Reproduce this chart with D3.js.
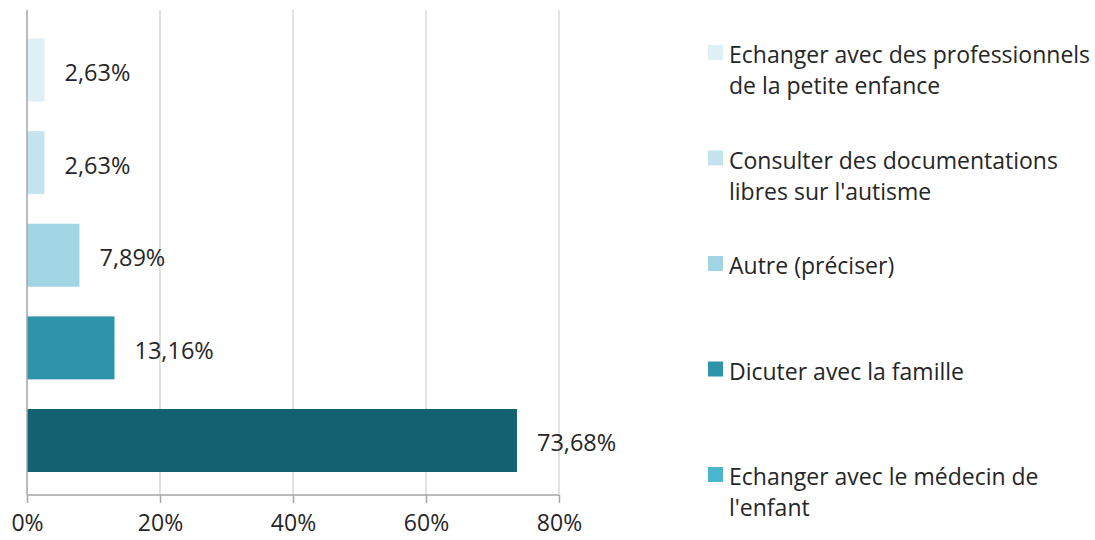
<!DOCTYPE html>
<html lang="fr">
<head>
<meta charset="utf-8">
<title></title>
<style>
  body { margin: 0; background: #fff; }
  text { font-family: "Open Sans", sans-serif; fill: #262626; }
</style>
</head>
<body>
<script src="https://d3js.org/d3.v7.min.js"></script>
<script>
  // data, top bar first
  const categories = [
    "Echanger avec des professionnels de la petite enfance",
    "Consulter des documentations libres sur l'autisme",
    "Autre (préciser)",
    "Dicuter avec la famille",
    "Echanger avec le médecin de l'enfant"
  ];
  const values = [2.63, 2.63, 7.89, 13.16, 73.68];
  const barColors = ["#deeff5", "#c4e3ee", "#a2d5e3", "#2e94aa", "#126272"];
  const legendColors = ["#deeff5", "#c4e3ee", "#a2d5e3", "#2e94aa", "#4bb7ce"];
  const legendLines = [
    ["Echanger avec des professionnels", "de la petite enfance"],
    ["Consulter des documentations", "libres sur l'autisme"],
    ["Autre (préciser)"],
    ["Dicuter avec la famille"],
    ["Echanger avec le médecin de", "l'enfant"]
  ];
  const xTicks = [0, 20, 40, 60, 80];

  const width = 1095, height = 540;
  const plotTop = 10, plotBottom = 495;

  const svg = d3.select("body").append("svg")
      .attr("width", width)
      .attr("height", height);

  const x = d3.scaleLinear().domain([0, 80]).range([27, 559]);
  const y = d3.scaleBand()
      .domain(categories)
      .range([23.7, 486.8])
      .paddingInner(0.32)
      .paddingOuter(0.16);

  // gridlines
  svg.append("g")
      .selectAll("line")
      .data(xTicks.slice(1))
      .enter().append("line")
      .attr("x1", d => x(d)).attr("x2", d => x(d))
      .attr("y1", plotTop).attr("y2", plotBottom)
      .style("stroke", "#d9d9d9")
      .style("stroke-width", 1.5);

  // bars
  svg.append("g")
      .selectAll("rect")
      .data(values)
      .enter().append("rect")
      .attr("x", x(0))
      .attr("y", (d, i) => y(categories[i]))
      .attr("width", d => x(d) - x(0))
      .attr("height", y.bandwidth())
      .style("fill", (d, i) => barColors[i]);

  // value labels
  svg.append("g")
      .selectAll("text")
      .data(values)
      .enter().append("text")
      .attr("x", d => x(d) + 20)
      .attr("y", (d, i) => y(categories[i]) + y.bandwidth() / 2 + 11)
      .style("font-size", "23.5px")
      .text(d => d.toFixed(2).replace(".", ",") + "%");

  // x axis
  const xAxis = d3.axisBottom(x)
      .tickValues(xTicks)
      .tickSize(8)
      .tickPadding(12)
      .tickFormat(d => d + "%");

  const gx = svg.append("g")
      .attr("transform", "translate(0," + plotBottom + ")")
      .call(xAxis);
  gx.select(".domain").remove();
  gx.append("line")
      .attr("x1", x(0)).attr("x2", x(80))
      .style("stroke", "#a6a6a6").style("stroke-width", 1.5);
  gx.selectAll(".tick line").style("stroke", "#a6a6a6").style("stroke-width", 1.5);
  gx.selectAll(".tick text")
      .style("font-family", "'Open Sans', sans-serif")
      .style("font-size", "23px")
      .style("fill", "#262626");

  // y axis line
  svg.append("line")
      .attr("x1", x(0)).attr("x2", x(0))
      .attr("y1", plotTop).attr("y2", plotBottom)
      .style("stroke", "#a6a6a6").style("stroke-width", 1.5);

  // legend
  const legend = svg.append("g").attr("transform", "translate(708,45)");
  const item = legend.selectAll("g")
      .data(legendLines)
      .enter().append("g")
      .attr("transform", (d, i) => "translate(0," + i * 105.5 + ")");
  item.append("rect")
      .attr("width", 15).attr("height", 15)
      .style("fill", (d, i) => legendColors[i]);
  item.append("text")
      .attr("x", 21)
      .attr("y", 18)
      .style("font-size", "23px")
      .selectAll("tspan")
      .data(d => d)
      .enter().append("tspan")
      .attr("x", 21)
      .attr("dy", (d, i) => i === 0 ? 0 : 31)
      .text(d => d);
</script>
</body>
</html>
